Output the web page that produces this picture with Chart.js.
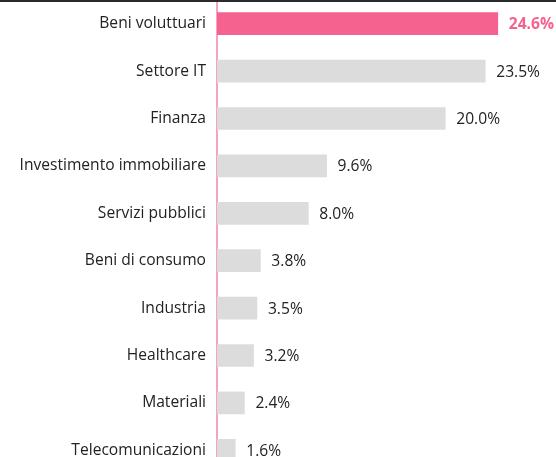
<!DOCTYPE html>
<html>
<head>
<meta charset="utf-8">
<script src="https://cdn.jsdelivr.net/npm/chart.js@4/dist/chart.umd.min.js"></script>
<style>
    html, body { margin: 0; padding: 0; overflow: hidden; background: #fff; }
    #wrap { position: relative; width: 556px; height: 457px; overflow: hidden; }
    #wrap::before { content: ''; position: absolute; left: 0; top: 0; width: 556px; height: 2px; background: #2b2b2b; z-index: 2; }
    #sectorChart { display: block; }
</style>
</head>
<body>
<div id="wrap">
    <canvas id="sectorChart" width="556" height="474"></canvas>
</div>
<script>
const sectors = [
    'Beni voluttuari', 'Settore IT', 'Finanza', 'Investimento immobiliare', 'Servizi pubblici',
    'Beni di consumo', 'Industria', 'Healthcare', 'Materiali', 'Telecomunicazioni'
];
const weights = [24.6, 23.5, 20.0, 9.6, 8.0, 3.8, 3.5, 3.2, 2.4, 1.6];
const highlightIndex = 0;

const PINK = '#f6628f';
const GREY = '#dcdcdc';
const FONT_SIZE = 15.6;

/* value labels at the end of each bar */
const valueLabels = {
    id: 'valueLabels',
    afterDatasetsDraw(chart) {
        const ctx = chart.ctx;
        const meta = chart.getDatasetMeta(0);
        ctx.save();
        ctx.textBaseline = 'middle';
        ctx.textAlign = 'left';
        meta.data.forEach((bar, i) => {
            const hot = i === highlightIndex;
            ctx.font = (hot ? 'bold ' : '') + FONT_SIZE + 'px "Open Sans"';
            ctx.fillStyle = hot ? PINK : '#222';
            ctx.fillText(weights[i].toFixed(1) + '%', bar.x + 11, bar.y + 1);
        });
        ctx.restore();
    }
};

new Chart(document.getElementById('sectorChart'), {
    type: 'bar',
    data: {
        labels: sectors,
        datasets: [{
            data: weights,
            backgroundColor: weights.map((v, i) => i === highlightIndex ? PINK : GREY),
            borderWidth: 0,
            barThickness: 22
        }]
    },
    options: {
        indexAxis: 'y',
        responsive: false,
        animation: false,
        layout: { padding: 0 },
        plugins: {
            legend: { display: false },
            tooltip: { enabled: false }
        },
        scales: {
            x: {
                display: false,
                min: 0,
                max: 29.7
            },
            y: {
                afterFit: s => {
                    s.width = 217;
                    s.paddingTop = 0;
                    s.paddingBottom = 0;
                },
                grid: { display: false, drawTicks: false },
                border: { display: true, color: '#f5a3bf', width: 2 },
                ticks: {
                    padding: 11,
                    color: '#222',
                    font: { family: '"Open Sans"', size: FONT_SIZE }
                }
            }
        }
    },
    plugins: [valueLabels]
});
</script>
</body>
</html>
